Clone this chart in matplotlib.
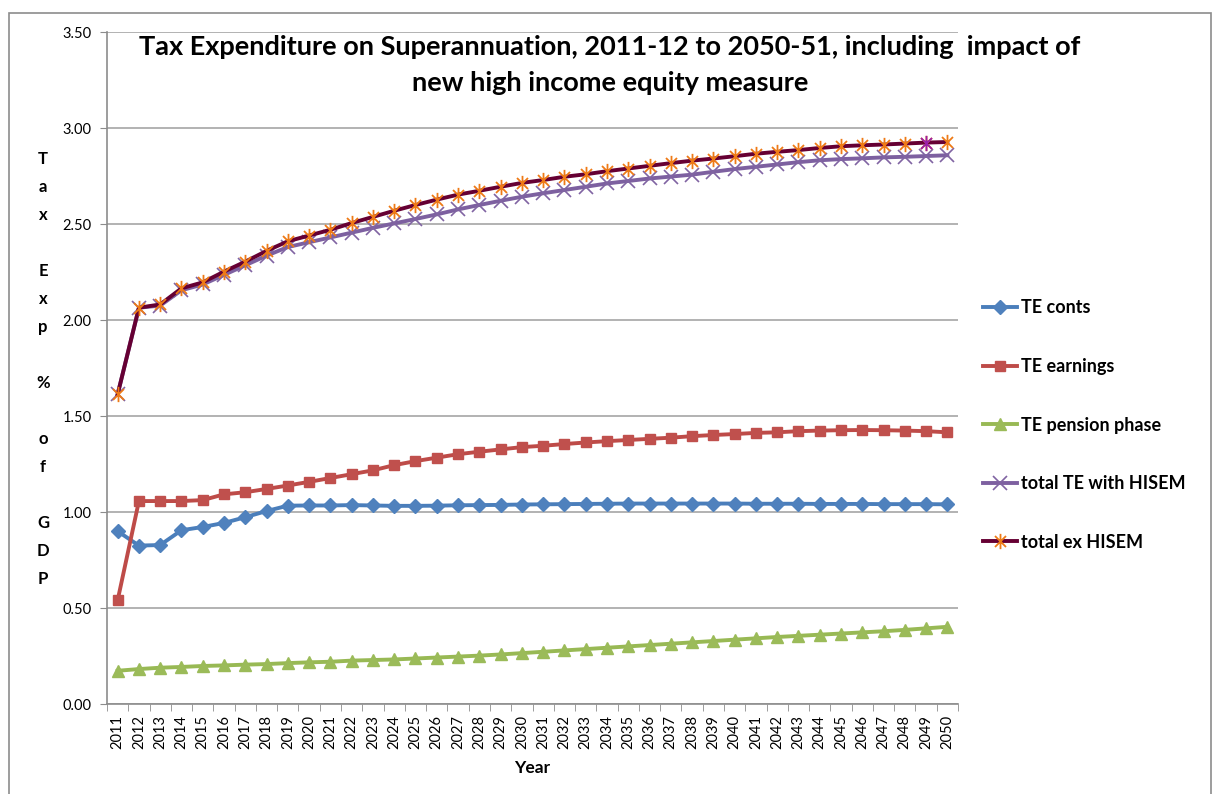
import matplotlib
matplotlib.use("Agg")
import matplotlib.pyplot as plt
from matplotlib.path import Path
from matplotlib.patches import Rectangle

plt.rcParams['font.family'] = ['Lato', 'DejaVu Sans']

years = [2011, 2012, 2013, 2014, 2015, 2016, 2017, 2018, 2019, 2020,
         2021, 2022, 2023, 2024, 2025, 2026, 2027, 2028, 2029, 2030,
         2031, 2032, 2033, 2034, 2035, 2036, 2037, 2038, 2039, 2040,
         2041, 2042, 2043, 2044, 2045, 2046, 2047, 2048, 2049, 2050]

te_conts = [0.900, 0.825, 0.828, 0.905, 0.922, 0.943, 0.973, 1.005, 1.033, 1.034,
            1.034, 1.036, 1.034, 1.032, 1.032, 1.033, 1.035, 1.036, 1.037, 1.039,
            1.040, 1.041, 1.042, 1.043, 1.044, 1.044, 1.044, 1.044, 1.044, 1.044,
            1.043, 1.043, 1.043, 1.042, 1.042, 1.042, 1.041, 1.041, 1.041, 1.040]

te_earnings = [0.540, 1.057, 1.057, 1.057, 1.062, 1.092, 1.103, 1.120, 1.138, 1.157,
               1.177, 1.197, 1.217, 1.244, 1.265, 1.283, 1.301, 1.314, 1.326, 1.338,
               1.345, 1.354, 1.362, 1.369, 1.375, 1.381, 1.387, 1.395, 1.401, 1.406,
               1.412, 1.415, 1.421, 1.424, 1.426, 1.427, 1.426, 1.424, 1.421, 1.415]

te_pension = [0.173, 0.182, 0.189, 0.193, 0.198, 0.201, 0.205, 0.208, 0.213, 0.217,
              0.220, 0.226, 0.229, 0.232, 0.237, 0.242, 0.247, 0.252, 0.258, 0.265,
              0.272, 0.279, 0.286, 0.293, 0.300, 0.307, 0.314, 0.321, 0.328, 0.335,
              0.342, 0.349, 0.355, 0.361, 0.367, 0.373, 0.379, 0.386, 0.394, 0.402]

total_with_hisem = [1.613, 2.064, 2.075, 2.155, 2.185, 2.235, 2.285, 2.335, 2.380, 2.405,
                    2.430, 2.455, 2.480, 2.503, 2.526, 2.550, 2.576, 2.599, 2.621, 2.642,
                    2.660, 2.677, 2.694, 2.711, 2.724, 2.737, 2.747, 2.757, 2.772, 2.786,
                    2.798, 2.810, 2.822, 2.832, 2.838, 2.842, 2.847, 2.850, 2.854, 2.858]

total_ex_hisem = [1.613, 2.064, 2.081, 2.165, 2.196, 2.252, 2.304, 2.360, 2.410, 2.440,
                  2.470, 2.505, 2.537, 2.569, 2.599, 2.627, 2.653, 2.673, 2.694, 2.714,
                  2.729, 2.746, 2.759, 2.775, 2.789, 2.803, 2.817, 2.830, 2.841, 2.853,
                  2.866, 2.876, 2.885, 2.896, 2.905, 2.910, 2.914, 2.919, 2.924, 2.927]

y_ticks = [0.0, 0.5, 1.0, 1.5, 2.0, 2.5, 3.0, 3.5]

title = ("Tax Expenditure on Superannuation, 2011-12 to 2050-51, including  impact of\n"
         "new high income equity measure")
y_label_letters = ["T", "a", "x", "", "E", "x", "p", "", "%", "", "o", "f", "", "G", "D", "P"]

# asterisk marker: vertical stroke plus an X
asterisk = Path([(0, -1), (0, 1), (-0.72, -0.72), (0.72, 0.72), (-0.72, 0.72), (0.72, -0.72)],
                [Path.MOVETO, Path.LINETO, Path.MOVETO, Path.LINETO, Path.MOVETO, Path.LINETO])

fig = plt.figure(figsize=(12.16, 7.94), dpi=100)
ax = fig.add_axes([107 / 1216, 1 - 704 / 794, (958 - 107) / 1216, (704 - 32) / 794])

xs = list(range(len(years)))
grey = '#8c8c8c'

ax.plot(xs, te_conts, color='#4A7EBB', lw=2.8, marker='D', ms=7.5,
        mfc='#4F81BD', mec='#4F81BD', label='TE conts', zorder=3)
ax.plot(xs, te_earnings, color='#BE4B48', lw=2.8, marker='s', ms=6.8,
        mfc='#C0504D', mec='#C0504D', label='TE earnings', zorder=3)
ax.plot(xs, te_pension, color='#98B954', lw=2.8, marker='^', ms=8.5,
        mfc='#9BBB59', mec='#9BBB59', label='TE pension phase', zorder=3)
ax.plot(xs, total_with_hisem, color='#7D60A0', lw=2.8, marker='x', ms=9.5,
        mew=1.2, mec='#8064A2', label='total TE with HISEM', zorder=3)
ax.plot(xs, total_ex_hisem, color='#660033', lw=2.8, marker=asterisk, ms=11,
        mew=1.3, mec='#EE7A16', label='total ex HISEM', zorder=4)
# one highlighted point on the ex-HISEM series
i49 = years.index(2049)
ax.plot([xs[i49]], [total_ex_hisem[i49]], ls='none', marker=asterisk, ms=11,
        mew=1.3, mec='#9A1FA8', zorder=5)

ax.set_xlim(-0.5, len(years) - 0.5)
ax.set_ylim(0, 3.5)
ax.set_yticks(y_ticks)
ax.set_yticklabels([f"{v:.2f}" for v in y_ticks])
ax.set_xticks(xs)
ax.set_xticklabels([str(y) for y in years], rotation=90)
ax.set_xticks([x - 0.5 for x in xs] + [len(years) - 0.5], minor=True)
ax.tick_params(axis='x', which='major', length=0, pad=8, labelsize=10.5)
ax.tick_params(axis='x', which='minor', length=5, color=grey, direction='out')
ax.tick_params(axis='y', length=5, color=grey, direction='out', pad=6, labelsize=10.5)

ax.grid(axis='y', color='#a6a6a6', lw=1.2)
ax.set_axisbelow(True)
for s in ('top', 'right'):
    ax.spines[s].set_visible(False)
for s in ('left', 'bottom'):
    ax.spines[s].set_color(grey)
    ax.spines[s].set_linewidth(1.2)

ax.set_xlabel('Year', fontsize=12.5, fontweight='bold', labelpad=8)

fig.text(0.5015, 1 - 65 / 794, title, ha='center', va='center', fontsize=19.5,
         fontweight='bold', linespacing=1.58)

fig.text(43 / 1216, 1 - 369 / 794, "\n".join(y_label_letters), ha='center', va='center',
         fontsize=12, fontweight='bold', linespacing=1.925)

leg = ax.legend(loc='center left', bbox_to_anchor=(983 / 1216, 1 - 425 / 794),
                bbox_transform=fig.transFigure, frameon=False,
                prop={'weight': 'bold', 'size': 13}, handlelength=1.9,
                handletextpad=0.2, labelspacing=2.3, borderpad=0, borderaxespad=0,
                numpoints=1)

# outer chart border
fig.patches.append(Rectangle((9 / 1216, -0.02), (1211 - 9) / 1216, 1.02 - 13 / 794,
                             transform=fig.transFigure, fill=False,
                             edgecolor='#8c8c8c', lw=1.2))

fig.savefig('out.png', dpi=100)
